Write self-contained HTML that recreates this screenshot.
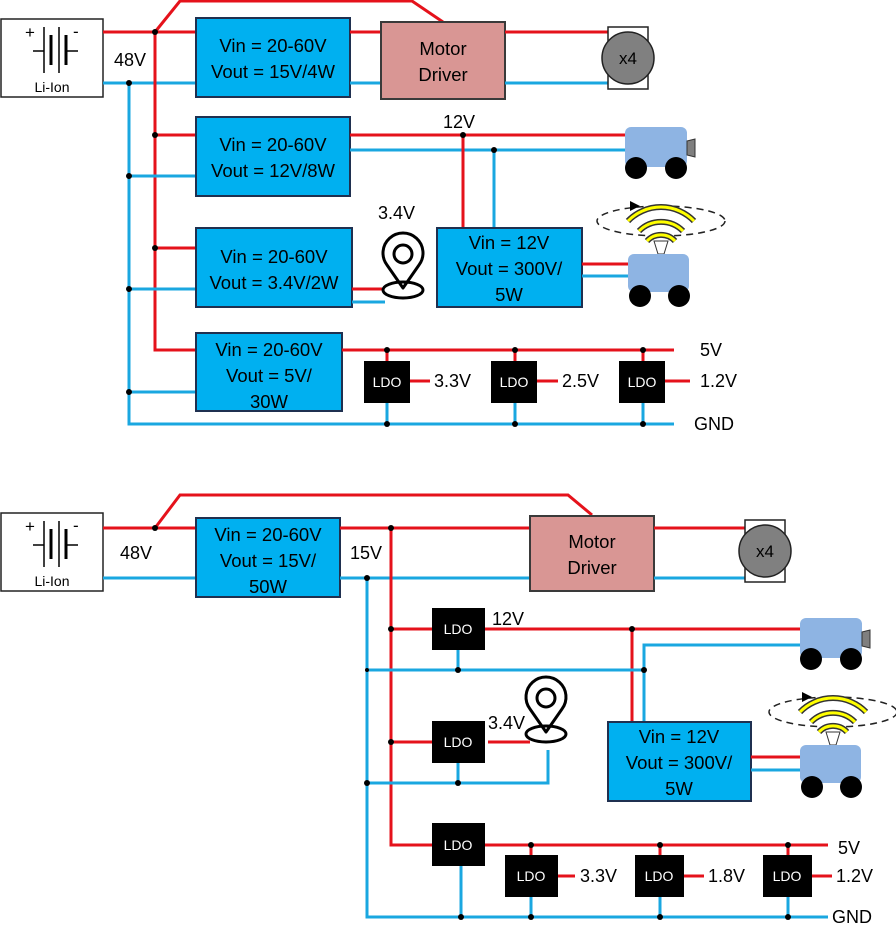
<!DOCTYPE html>
<html><head><meta charset="utf-8"><style>
html,body{margin:0;padding:0;background:#fff;}
svg{display:block;}
text{font-family:"Liberation Sans",sans-serif;fill:#000;}
.r{stroke:#E5121B;stroke-width:3;fill:none;}
.b{stroke:#1AA7E0;stroke-width:3;fill:none;}
.box{fill:#00B0F0;stroke:#1F3050;stroke-width:2;}
.md{fill:#D99694;stroke:#3a3a3a;stroke-width:2;}
.ldo{fill:#000;}
.lt{fill:#fff;font-size:14px;}
.bt{font-size:18.5px;}
.lb{font-size:18px;}
</style></head><body>
<svg width="896" height="938" viewBox="0 0 896 938" xmlns="http://www.w3.org/2000/svg">
<defs>
<g id="batt">
  <rect x="1" y="0" width="102" height="78" fill="#fff" stroke="#222" stroke-width="1.5"/>
  <text x="25" y="19" font-size="17">+</text>
  <text x="73" y="18" font-size="17">-</text>
  <line x1="33" y1="32" x2="44" y2="32" stroke="#000" stroke-width="1.5"/>
  <line x1="44" y1="8" x2="44" y2="54" stroke="#000" stroke-width="1.5"/>
  <line x1="51" y1="16" x2="51" y2="46" stroke="#000" stroke-width="3"/>
  <line x1="59" y1="8" x2="59" y2="54" stroke="#000" stroke-width="1.5"/>
  <line x1="66" y1="16" x2="66" y2="46" stroke="#000" stroke-width="3"/>
  <line x1="66" y1="32" x2="78" y2="32" stroke="#000" stroke-width="1.5"/>
  <text x="52" y="73" font-size="14" text-anchor="middle">Li-Ion</text>
</g>
<g id="motor">
  <rect x="0" y="0" width="40" height="62" fill="#fff" stroke="#222" stroke-width="1.5"/>
  <circle cx="20" cy="31" r="26" fill="#808080" stroke="#222" stroke-width="1.5"/>
  <text x="20" y="37" font-size="17" text-anchor="middle">x4</text>
</g>
<g id="rob1">
  <rect x="0" y="0" width="62" height="40" rx="6" fill="#8EB4E3"/>
  <path d="M62,14 L70,12 L70,30 L62,28 Z" fill="#7f7f7f" stroke="#333" stroke-width="1"/>
  <circle cx="11" cy="41" r="11" fill="#000"/>
  <circle cx="51" cy="41" r="11" fill="#000"/>
</g>
<g id="rob2">
  <ellipse cx="33" cy="-33" rx="64" ry="15" fill="none" stroke="#222" stroke-width="1.5" stroke-dasharray="7,5"/>
  <path d="M2,-53 L12,-48 L2,-43 Z" fill="#000"/>
  <path d="M0,-33 A46,46 0 0 1 66,-33" fill="none" stroke="#333" stroke-width="6"/>
  <path d="M0,-33 A46,46 0 0 1 66,-33" fill="none" stroke="#FFFF00" stroke-width="3"/>
  <path d="M11,-23 A31,31 0 0 1 55,-23" fill="none" stroke="#333" stroke-width="6"/>
  <path d="M11,-23 A31,31 0 0 1 55,-23" fill="none" stroke="#FFFF00" stroke-width="3"/>
  <path d="M19,-13 A19,19 0 0 1 47,-13" fill="none" stroke="#333" stroke-width="6"/>
  <path d="M19,-13 A19,19 0 0 1 47,-13" fill="none" stroke="#FFFF00" stroke-width="3"/>
  <path d="M26,-13 L40,-13 L36,0 L30,0 Z" fill="#fff" stroke="#333" stroke-width="1"/>
  <rect x="0" y="0" width="61" height="38" rx="6" fill="#8EB4E3"/>
  <circle cx="12" cy="42" r="11" fill="#000"/>
  <circle cx="51" cy="42" r="11" fill="#000"/>
</g>
<g id="pin">
  <path d="M0,32 L-16,9 A20,20 0 1 1 16,9 Z" fill="#fff" stroke="#000" stroke-width="3" stroke-linejoin="round"/>
  <circle cx="0" cy="-2" r="9" fill="#fff" stroke="#000" stroke-width="3"/>
  <ellipse cx="0" cy="34" rx="20" ry="8" fill="none" stroke="#000" stroke-width="3"/>
</g>
</defs>

<!-- ================= TOP ================= -->
<use href="#batt" x="0" y="19"/>
<polyline class="r" points="103,32 196,32"/>
<polyline class="r" points="155,32 180,1 412,1 443,22"/>
<polyline class="b" points="103,83 196,83"/>
<text class="lb" x="114" y="66">48V</text>
<polyline class="r" points="155,32 155,350 196,350"/>
<polyline class="b" points="129,83 129,424 674,424"/>
<line class="r" x1="155" y1="135" x2="196" y2="135"/>
<line class="b" x1="129" y1="176" x2="196" y2="176"/>
<line class="r" x1="155" y1="248" x2="196" y2="248"/>
<line class="b" x1="129" y1="289" x2="196" y2="289"/>
<line class="b" x1="129" y1="392" x2="196" y2="392"/>

<rect class="box" x="196" y="18" width="154" height="79"/>
<text class="bt" x="273" y="52" text-anchor="middle">Vin = 20-60V</text>
<text class="bt" x="273" y="78" text-anchor="middle">Vout = 15V/4W</text>
<line class="r" x1="350" y1="32" x2="381" y2="32"/>
<line class="b" x1="350" y1="83" x2="381" y2="83"/>
<rect class="md" x="381" y="22" width="124" height="77"/>
<text class="bt" x="443" y="55" text-anchor="middle">Motor</text>
<text class="bt" x="443" y="81" text-anchor="middle">Driver</text>
<line class="r" x1="505" y1="32" x2="608" y2="32"/>
<line class="b" x1="505" y1="83" x2="608" y2="83"/>
<use href="#motor" x="608" y="27"/>

<rect class="box" x="196" y="117" width="154" height="79"/>
<text class="bt" x="273" y="151" text-anchor="middle">Vin = 20-60V</text>
<text class="bt" x="273" y="177" text-anchor="middle">Vout = 12V/8W</text>
<line class="r" x1="350" y1="135" x2="625" y2="135"/>
<line class="b" x1="350" y1="150" x2="625" y2="150"/>
<text class="lb" x="443" y="128">12V</text>
<line class="r" x1="463" y1="135" x2="463" y2="228"/>
<line class="b" x1="494" y1="150" x2="494" y2="228"/>
<use href="#rob1" x="625" y="127"/>

<rect class="box" x="437" y="228" width="145" height="79"/>
<text class="bt" x="509" y="249" text-anchor="middle">Vin = 12V</text>
<text class="bt" x="509" y="275" text-anchor="middle">Vout = 300V/</text>
<text class="bt" x="509" y="301" text-anchor="middle">5W</text>
<line class="r" x1="582" y1="264" x2="628" y2="264"/>
<line class="b" x1="582" y1="276" x2="628" y2="276"/>
<use href="#rob2" x="628" y="254"/>

<rect class="box" x="196" y="228" width="156" height="79"/>
<text class="bt" x="274" y="263" text-anchor="middle">Vin = 20-60V</text>
<text class="bt" x="274" y="289" text-anchor="middle">Vout = 3.4V/2W</text>
<line class="r" x1="352" y1="289" x2="382" y2="289"/>
<line class="b" x1="352" y1="302" x2="385" y2="302"/>
<use href="#pin" x="403" y="256"/>
<text class="lb" x="378" y="219">3.4V</text>

<rect class="box" x="196" y="333" width="146" height="78"/>
<text class="bt" x="269" y="356" text-anchor="middle">Vin = 20-60V</text>
<text class="bt" x="269" y="382" text-anchor="middle">Vout = 5V/</text>
<text class="bt" x="269" y="408" text-anchor="middle">30W</text>
<line class="r" x1="342" y1="350" x2="674" y2="350"/>
<text class="lb" x="700" y="356">5V</text>
<text class="lb" x="694" y="430">GND</text>
<g>
  <line class="r" x1="387" y1="350" x2="387" y2="361"/><line class="b" x1="387" y1="403" x2="387" y2="424"/>
  <rect class="ldo" x="364" y="361" width="46" height="42"/><text class="lt" x="387" y="387" text-anchor="middle">LDO</text>
  <line class="r" x1="410" y1="381" x2="430" y2="381"/><text class="lb" x="434" y="387">3.3V</text>
  <line class="r" x1="515" y1="350" x2="515" y2="361"/><line class="b" x1="515" y1="403" x2="515" y2="424"/>
  <rect class="ldo" x="491" y="361" width="46" height="42"/><text class="lt" x="514" y="387" text-anchor="middle">LDO</text>
  <line class="r" x1="537" y1="381" x2="558" y2="381"/><text class="lb" x="562" y="387">2.5V</text>
  <line class="r" x1="643" y1="350" x2="643" y2="361"/><line class="b" x1="643" y1="403" x2="643" y2="424"/>
  <rect class="ldo" x="619" y="361" width="46" height="42"/><text class="lt" x="642" y="387" text-anchor="middle">LDO</text>
  <line class="r" x1="665" y1="381" x2="690" y2="381"/><text class="lb" x="700" y="387">1.2V</text>
</g>
<g fill="#000">
  <circle cx="155" cy="32" r="3"/><circle cx="129" cy="83" r="3"/><circle cx="155" cy="135" r="3"/>
  <circle cx="129" cy="176" r="3"/><circle cx="155" cy="248" r="3"/><circle cx="129" cy="289" r="3"/>
  <circle cx="129" cy="392" r="3"/><circle cx="463" cy="135" r="3"/><circle cx="494" cy="150" r="3"/>
  <circle cx="387" cy="350" r="3"/><circle cx="515" cy="350" r="3"/><circle cx="643" cy="350" r="3"/>
  <circle cx="387" cy="424" r="3"/><circle cx="515" cy="424" r="3"/><circle cx="643" cy="424" r="3"/>
</g>

<!-- ================= BOTTOM ================= -->
<use href="#batt" x="0" y="513"/>
<line class="r" x1="103" y1="528" x2="196" y2="528"/>
<polyline class="r" points="155,528 180,495 568,495 592,515"/>
<line class="b" x1="103" y1="578" x2="196" y2="578"/>
<text class="lb" x="120" y="559">48V</text>
<rect class="box" x="196" y="518" width="144" height="79"/>
<text class="bt" x="268" y="541" text-anchor="middle">Vin = 20-60V</text>
<text class="bt" x="268" y="567" text-anchor="middle">Vout = 15V/</text>
<text class="bt" x="268" y="593" text-anchor="middle">50W</text>
<text class="lb" x="350" y="559">15V</text>
<line class="r" x1="340" y1="528" x2="530" y2="528"/>
<line class="b" x1="340" y1="578" x2="530" y2="578"/>
<rect class="md" x="530" y="516" width="124" height="75"/>
<text class="bt" x="592" y="548" text-anchor="middle">Motor</text>
<text class="bt" x="592" y="574" text-anchor="middle">Driver</text>
<line class="r" x1="654" y1="528" x2="745" y2="528"/>
<line class="b" x1="654" y1="578" x2="745" y2="578"/>
<use href="#motor" x="745" y="520"/>

<polyline class="r" points="391,528 391,845 432,845"/>
<polyline class="b" points="367,578 367,917 828,917"/>

<line class="r" x1="391" y1="629" x2="432" y2="629"/>
<rect class="ldo" x="432" y="608" width="53" height="42"/><text class="lt" x="458" y="634" text-anchor="middle">LDO</text>
<line class="r" x1="485" y1="629" x2="800" y2="629"/>
<text class="lb" x="492" y="625">12V</text>
<line class="r" x1="632" y1="629" x2="632" y2="722"/>
<line class="b" x1="458" y1="650" x2="458" y2="670"/>
<line class="b" x1="367" y1="670" x2="644" y2="670"/>
<polyline class="b" points="644,722 644,645 800,645"/>
<use href="#rob1" x="800" y="618"/>

<line class="r" x1="391" y1="742" x2="432" y2="742"/>
<rect class="ldo" x="432" y="721" width="53" height="42"/><text class="lt" x="458" y="747" text-anchor="middle">LDO</text>
<line class="r" x1="488" y1="742" x2="530" y2="742"/>
<text class="lb" x="488" y="729">3.4V</text>
<line class="b" x1="458" y1="763" x2="458" y2="783"/>
<polyline class="b" points="367,783 548,783 548,750"/>
<use href="#pin" x="546" y="700"/>

<rect class="box" x="608" y="722" width="143" height="79"/>
<text class="bt" x="679" y="743" text-anchor="middle">Vin = 12V</text>
<text class="bt" x="679" y="769" text-anchor="middle">Vout = 300V/</text>
<text class="bt" x="679" y="795" text-anchor="middle">5W</text>
<line class="r" x1="751" y1="757" x2="800" y2="757"/>
<line class="b" x1="751" y1="770" x2="800" y2="770"/>
<use href="#rob2" x="800" y="745"/>

<rect class="ldo" x="432" y="823" width="53" height="43"/><text class="lt" x="458" y="850" text-anchor="middle">LDO</text>
<line class="r" x1="485" y1="845" x2="828" y2="845"/>
<line class="b" x1="461" y1="866" x2="461" y2="917"/>
<text class="lb" x="838" y="854">5V</text>
<text class="lb" x="832" y="923">GND</text>
<g>
  <line class="r" x1="531" y1="845" x2="531" y2="855"/><line class="b" x1="531" y1="897" x2="531" y2="917"/>
  <rect class="ldo" x="505" y="855" width="53" height="42"/><text class="lt" x="531" y="881" text-anchor="middle">LDO</text>
  <line class="r" x1="558" y1="876" x2="575" y2="876"/><text class="lb" x="580" y="882">3.3V</text>
  <line class="r" x1="660" y1="845" x2="660" y2="855"/><line class="b" x1="660" y1="897" x2="660" y2="917"/>
  <rect class="ldo" x="635" y="855" width="49" height="42"/><text class="lt" x="659" y="881" text-anchor="middle">LDO</text>
  <line class="r" x1="684" y1="876" x2="704" y2="876"/><text class="lb" x="708" y="882">1.8V</text>
  <line class="r" x1="788" y1="845" x2="788" y2="855"/><line class="b" x1="788" y1="897" x2="788" y2="917"/>
  <rect class="ldo" x="763" y="855" width="49" height="42"/><text class="lt" x="787" y="881" text-anchor="middle">LDO</text>
  <line class="r" x1="812" y1="876" x2="832" y2="876"/><text class="lb" x="836" y="882">1.2V</text>
</g>
<g fill="#000">
  <circle cx="155" cy="528" r="3"/><circle cx="391" cy="528" r="3"/><circle cx="367" cy="578" r="3"/>
  <circle cx="391" cy="629" r="3"/><circle cx="632" cy="629" r="3"/><circle cx="458" cy="670" r="3"/>
  <circle cx="644" cy="670" r="3"/><circle cx="367" cy="670" r="2"/><circle cx="391" cy="742" r="3"/>
  <circle cx="367" cy="783" r="3"/><circle cx="458" cy="783" r="3"/>
  <circle cx="531" cy="845" r="3"/><circle cx="660" cy="845" r="3"/><circle cx="788" cy="845" r="3"/>
  <circle cx="461" cy="917" r="3"/><circle cx="531" cy="917" r="3"/><circle cx="660" cy="917" r="3"/><circle cx="788" cy="917" r="3"/>
</g>
</svg>
</body></html>
